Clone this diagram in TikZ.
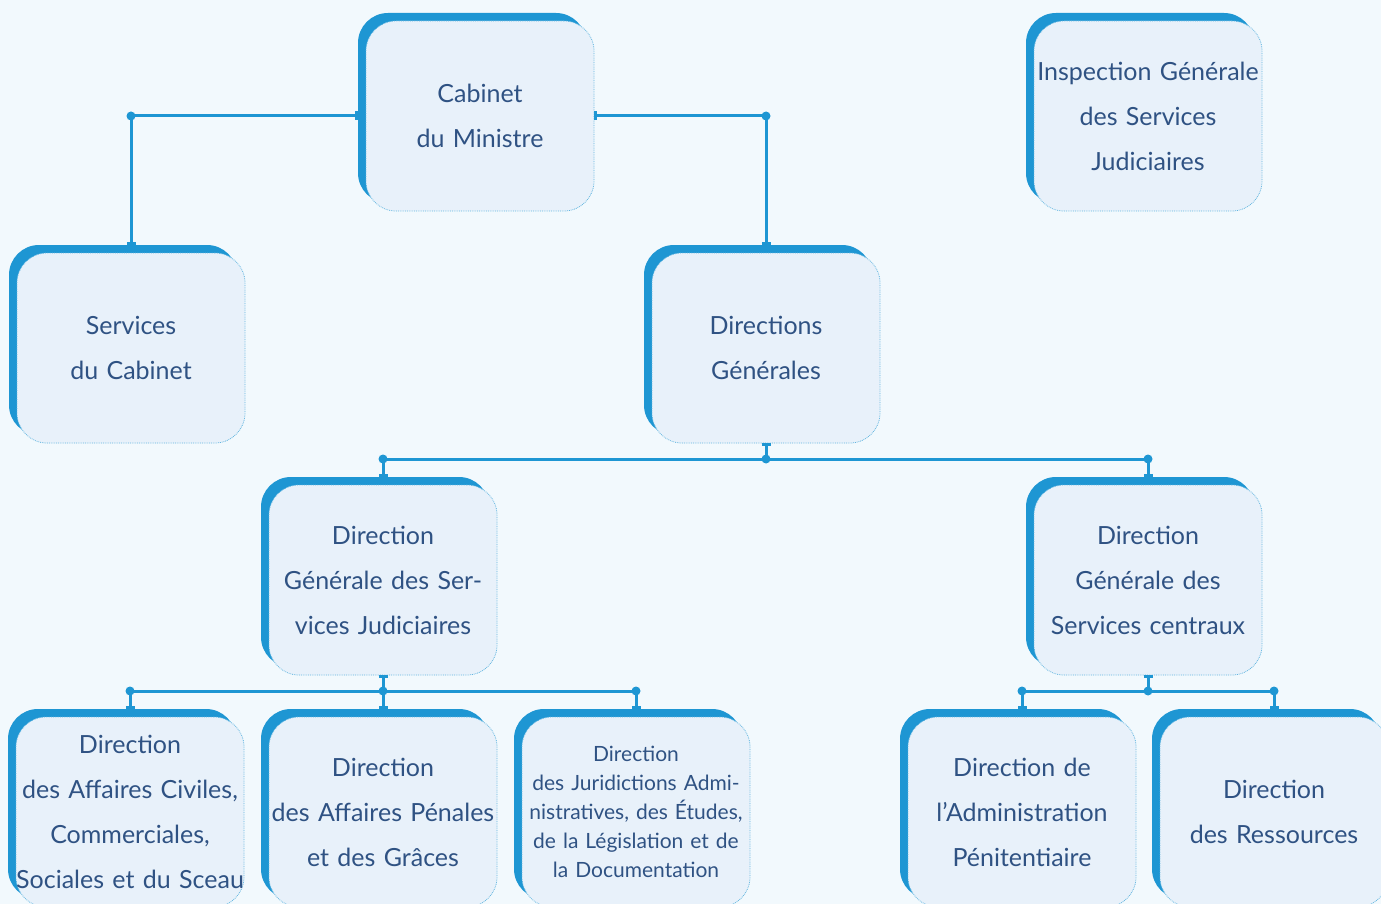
\documentclass[tikz,border=0pt]{standalone}
\usepackage{fontspec}
\setmainfont{Lato}
\usetikzlibrary{shadows,arrows.meta}
\definecolor{bgblue}{HTML}{F2F9FD}
\definecolor{boxfill}{HTML}{E8F1FA}
\definecolor{boxblue}{HTML}{1E96D3}
\definecolor{txtblue}{HTML}{2F5283}
\tikzset{
  unit/.style={draw=boxblue!70, densely dotted, line width=0.8pt, fill=boxfill,
    rounded corners=30pt, minimum width=228pt, minimum height=190pt,
    text width=240pt, inner xsep=-6pt, align=center, text=txtblue,
    font=\fontsize{25}{45}\selectfont,
    general shadow={fill=boxblue, shadow xshift=-8pt, shadow yshift=8pt}},
  smalltext/.style={font=\fontsize{21}{29}\selectfont},
  link/.style={draw=boxblue, line width=3pt},
  jdot/.style={circle, fill=boxblue, inner sep=0pt, minimum size=9pt},
  >={Bar[width=9pt,line width=3pt]}
}

\begin{document}
\begin{tikzpicture}[x=1pt,y=-1pt]
    \fill[bgblue] (0,0) rectangle (1381,904);
    \useasboundingbox (0,0) rectangle (1381,904);
    \clip (0,0) rectangle (1381,904);

    % top levels
    \node[unit] (cab) at (480,116) {Cabinet\\du Ministre};
    \node[unit] (insp) at (1148,116) {Inspection Générale\\des Services\\Judiciaires};
    \node[unit] (svc) at (131,348) {Services\\du Cabinet};
    \node[unit] (dirg) at (766,348) {Directions\\Générales};
    \node[unit] (dgsj) at (383,580) {Direction\\Générale des Ser-\\vices Judiciaires};
    \node[unit] (dgsc) at (1148,580) {Direction\\Générale des\\Services centraux};

    % bottom row
    \node[unit] (dacs) at (130,812) {Direction\\des Affaires Civiles,\\Commerciales,\\Sociales et du Sceau};
    \node[unit] (dapg) at (383,812) {Direction\\des Affaires Pénales\\et des Grâces};
    \node[unit,smalltext] (djad) at (636,812) {Direction\\des Juridictions Admi-\\nistratives, des Études,\\de la Législation et de\\la Documentation};
    \node[unit] (dap) at (1022,812) {Direction de\\l’Administration\\Pénitentiaire};
    \node[unit] (dres) at (1274,812) {Direction\\des Ressources};

    % junctions
    \node[jdot] (j1) at (svc.north |- cab.west) {};
    \node[jdot] (j2) at (dirg.north |- cab.east) {};
    \node[jdot] (j3) at (766,459) {};
    \node[jdot] (j3l) at (dgsj.north |- j3) {};
    \node[jdot] (j3r) at (dgsc.north |- j3) {};
    \node[jdot] (j4) at (383,691) {};
    \node[jdot] (j4l) at (dacs.north |- j4) {};
    \node[jdot] (j4r) at (djad.north |- j4) {};
    \node[jdot] (j5) at (1148,691) {};
    \node[jdot] (j5l) at (dap.north |- j5) {};
    \node[jdot] (j5r) at (dres.north |- j5) {};

    % connectors
    \draw[link,>-] ([xshift=-8pt]cab.west) -- (j1.center);
    \draw[link,->] (j1.center) -- ([yshift=8pt]svc.north);
    \draw[link,>-] (cab.east) -- (j2.center);
    \draw[link,->] (j2.center) -- ([yshift=8pt]dirg.north);

    \draw[link,>-] (dirg.south) -- (j3.center);
    \draw[link] (j3l.center) -- (j3r.center);
    \draw[link,->] (j3l.center) -- ([yshift=8pt]dgsj.north);
    \draw[link,->] (j3r.center) -- ([yshift=8pt]dgsc.north);

    \draw[link,>-] (dgsj.south) -- (j4.center);
    \draw[link] (j4l.center) -- (j4r.center);
    \draw[link,->] (j4l.center) -- ([yshift=8pt]dacs.north);
    \draw[link,->] (j4.center) -- ([yshift=8pt]dapg.north);
    \draw[link,->] (j4r.center) -- ([yshift=8pt]djad.north);

    \draw[link,>-] (dgsc.south) -- (j5.center);
    \draw[link] (j5l.center) -- (j5r.center);
    \draw[link,->] (j5l.center) -- ([yshift=8pt]dap.north);
    \draw[link,->] (j5r.center) -- ([yshift=8pt]dres.north);
\end{tikzpicture}
\end{document}
